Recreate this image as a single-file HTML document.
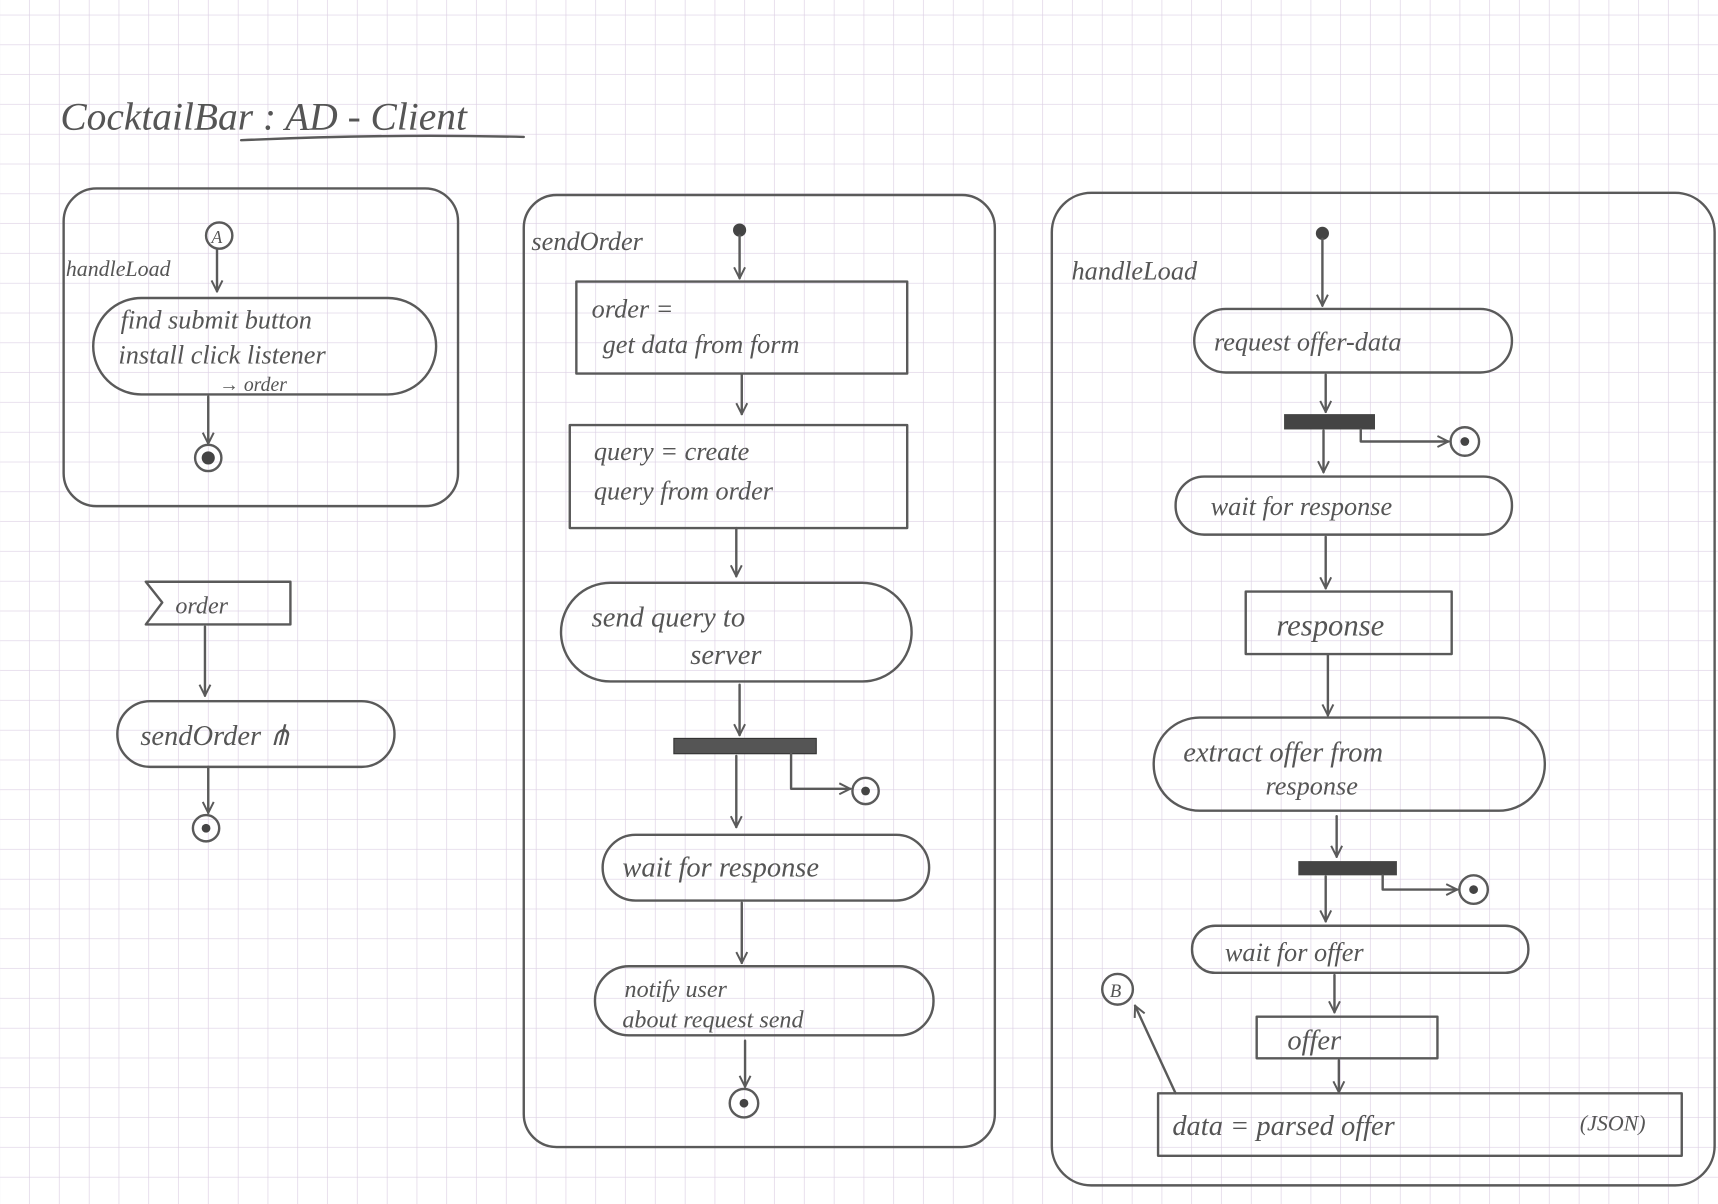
<!DOCTYPE html>
<html><head><meta charset="utf-8"><style>
html,body{margin:0;padding:0;background:#fff}
svg{display:block}
text{font-family:"Liberation Serif",serif;font-style:italic;fill:#555}
.s{fill:none;stroke:#5a5a5a;stroke-width:2.2;stroke-linecap:round;stroke-linejoin:round}
</style></head><body>
<svg width="1718" height="1204" viewBox="0 0 1568 1099" xmlns="http://www.w3.org/2000/svg">
<defs>
<pattern id="g" width="27.2" height="27.2" patternUnits="userSpaceOnUse" x="0" y="14">
<path d="M27.2 0V27.2M0 27.2H27.2" stroke="#dcd0e4" stroke-width="1.2" fill="none"/>
</pattern>
<marker id="a" viewBox="0 0 12 12" refX="11" refY="6" markerWidth="12" markerHeight="12" markerUnits="userSpaceOnUse" orient="auto">
<path d="M1 1L11 6L1 11" fill="none" stroke="#5a5a5a" stroke-width="1.8"/>
</marker>
</defs>
<rect width="1568" height="1099" fill="#fff"/>
<rect width="1568" height="1099" fill="url(#g)"/>

<text x="55" y="118" font-size="36">CocktailBar : AD - Client</text>
<path class="s" d="M220 128 Q350 122 478 125" stroke-width="1.5"/>

<!-- Box 1 -->
<rect class="s" x="58" y="172" width="360" height="290" rx="30"/>
<circle class="s" cx="200" cy="215" r="12"/><text x="193" y="222" font-size="16">A</text>
<text x="60" y="252" font-size="20">handleLoad</text>
<line class="s" x1="198" y1="228" x2="198" y2="266" marker-end="url(#a)"/>
<rect class="s" x="85" y="272" width="313" height="88" rx="44"/>
<text x="110" y="300" font-size="24">find submit button</text>
<text x="108" y="332" font-size="24">install click listener</text>
<text x="200" y="357" font-size="18">→ order</text>
<line class="s" x1="190" y1="362" x2="190" y2="405" marker-end="url(#a)"/>
<circle class="s" cx="190" cy="418" r="12"/><circle cx="190" cy="418" r="6" fill="#444"/>

<!-- order flow -->
<path class="s" d="M133 531H265V570H133L148 550Z"/>
<text x="160" y="560" font-size="22">order</text>
<line class="s" x1="187" y1="572" x2="187" y2="635" marker-end="url(#a)"/>
<rect class="s" x="107" y="640" width="253" height="60" rx="30"/>
<text x="128" y="680" font-size="26">sendOrder ⋔</text>
<line class="s" x1="190" y1="700" x2="190" y2="742" marker-end="url(#a)"/>
<circle class="s" cx="188" cy="756" r="12"/><circle cx="188" cy="756" r="4" fill="#444"/>

<!-- Box 2 -->
<rect class="s" x="478" y="178" width="430" height="869" rx="30"/>
<text x="485" y="228" font-size="24">sendOrder</text>
<circle cx="675" cy="210" r="6" fill="#444"/>
<line class="s" x1="675" y1="215" x2="675" y2="254" marker-end="url(#a)"/>
<rect class="s" x="526" y="257" width="302" height="84"/>
<text x="540" y="290" font-size="24">order =</text>
<text x="550" y="322" font-size="24">get data from form</text>
<line class="s" x1="677" y1="342" x2="677" y2="378" marker-end="url(#a)"/>
<rect class="s" x="520" y="388" width="308" height="94"/>
<text x="542" y="420" font-size="24">query = create</text>
<text x="542" y="456" font-size="24">query from order</text>
<line class="s" x1="672" y1="482" x2="672" y2="526" marker-end="url(#a)"/>
<rect class="s" x="512" y="532" width="320" height="90" rx="45"/>
<text x="540" y="572" font-size="26">send query to</text>
<text x="630" y="606" font-size="26">server</text>
<line class="s" x1="675" y1="625" x2="675" y2="671" marker-end="url(#a)"/>
<rect x="615" y="674" width="130" height="14" fill="#555" stroke="#333"/>
<line class="s" x1="672" y1="690" x2="672" y2="755" marker-end="url(#a)"/>
<path class="s" d="M722 688V720H776" marker-end="url(#a)"/>
<circle class="s" cx="790" cy="722" r="12"/><circle cx="790" cy="722" r="4" fill="#444"/>
<rect class="s" x="550" y="762" width="298" height="60" rx="30"/>
<text x="568" y="800" font-size="26">wait for response</text>
<line class="s" x1="677" y1="824" x2="677" y2="879" marker-end="url(#a)"/>
<rect class="s" x="543" y="882" width="309" height="63" rx="31"/>
<text x="570" y="910" font-size="22">notify user</text>
<text x="568" y="938" font-size="22">about request send</text>
<line class="s" x1="680" y1="950" x2="680" y2="992" marker-end="url(#a)"/>
<circle class="s" cx="679" cy="1007" r="13"/><circle cx="679" cy="1007" r="4" fill="#444"/>

<!-- Box 3 -->
<rect class="s" x="960" y="176" width="605" height="906" rx="36"/>
<text x="978" y="255" font-size="24">handleLoad</text>
<circle cx="1207" cy="213" r="6" fill="#444"/>
<line class="s" x1="1207" y1="218" x2="1207" y2="279" marker-end="url(#a)"/>
<rect class="s" x="1090" y="282" width="290" height="58" rx="29"/>
<text x="1108" y="320" font-size="24">request offer-data</text>
<line class="s" x1="1210" y1="342" x2="1210" y2="376" marker-end="url(#a)"/>
<rect x="1172" y="378" width="83" height="14" fill="#444"/>
<path class="s" d="M1242 392V403H1322" marker-end="url(#a)"/>
<circle class="s" cx="1337" cy="403" r="13"/><circle cx="1337" cy="403" r="4" fill="#444"/>
<line class="s" x1="1208" y1="393" x2="1208" y2="431" marker-end="url(#a)"/>
<rect class="s" x="1073" y="435" width="307" height="53" rx="26"/>
<text x="1105" y="470" font-size="24">wait for response</text>
<line class="s" x1="1210" y1="490" x2="1210" y2="537" marker-end="url(#a)"/>
<rect class="s" x="1137" y="540" width="188" height="57"/>
<text x="1165" y="580" font-size="28">response</text>
<line class="s" x1="1212" y1="598" x2="1212" y2="653" marker-end="url(#a)"/>
<rect class="s" x="1053" y="655" width="357" height="85" rx="42"/>
<text x="1080" y="695" font-size="26">extract offer from</text>
<text x="1155" y="725" font-size="24">response</text>
<line class="s" x1="1220" y1="745" x2="1220" y2="782" marker-end="url(#a)"/>
<rect x="1185" y="786" width="90" height="13" fill="#444"/>
<path class="s" d="M1262 799V812H1330" marker-end="url(#a)"/>
<circle class="s" cx="1345" cy="812" r="13"/><circle cx="1345" cy="812" r="4" fill="#444"/>
<line class="s" x1="1210" y1="800" x2="1210" y2="841" marker-end="url(#a)"/>
<rect class="s" x="1088" y="845" width="307" height="43" rx="21"/>
<text x="1118" y="877" font-size="24">wait for offer</text>
<line class="s" x1="1218" y1="890" x2="1218" y2="924" marker-end="url(#a)"/>
<rect class="s" x="1147" y="928" width="165" height="38"/>
<text x="1175" y="958" font-size="26">offer</text>
<line class="s" x1="1222" y1="968" x2="1222" y2="997" marker-end="url(#a)"/>
<rect class="s" x="1057" y="998" width="478" height="57"/>
<text x="1070" y="1036" font-size="26">data = parsed  offer</text>
<text x="1442" y="1032" font-size="20">(JSON)</text>
<line class="s" x1="1073" y1="998" x2="1036" y2="918" marker-end="url(#a)"/>
<circle class="s" cx="1020" cy="903" r="14"/><text x="1013" y="910" font-size="17">B</text>
</svg>
</body></html>
